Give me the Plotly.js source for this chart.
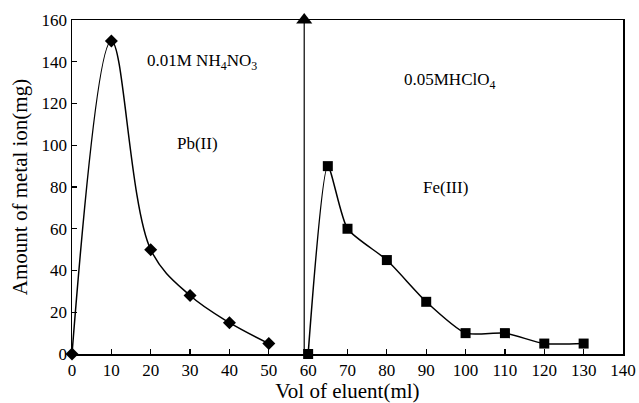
<!DOCTYPE html>
<html><head><meta charset="utf-8">
<script src="https://cdn.plot.ly/plotly-3.0.1.min.js"></script>
<style>
html,body{margin:0;padding:0;background:#fff}
#chart text{font-family:'Liberation Serif', serif !important;}
</style>
</head><body><div id="chart" style="width:639px;height:403px"></div>
<script>
const pbVol = [0, 10, 20, 30, 40, 50];
const pbAmount = [0, 150, 50, 28, 15, 5];
const feVol = [60, 65, 70, 80, 90, 100, 110, 120, 130];
const feAmount = [0, 90, 60, 45, 25, 10, 10, 5, 5];
const markerVol = [59, 59];
const markerAmount = [0, 160];
const xTicks = [0, 10, 20, 30, 40, 50, 60, 70, 80, 90, 100, 110, 120, 130, 140];
const yTicks = [0, 20, 40, 60, 80, 100, 120, 140, 160];

const FAM = 'Liberation Serif';
function f(size) { return {family: FAM, size: size, color: '#000000'}; }
const traces = [
  {x: pbVol, y: pbAmount, mode: 'lines+markers', line: {color: '#000', width: 1.5, shape: 'spline', smoothing: 1},
   marker: {symbol: 'diamond', size: 10, color: '#000'}, cliponaxis: false},
  {x: feVol, y: feAmount, mode: 'lines+markers', line: {color: '#000', width: 1.5, shape: 'spline', smoothing: 0.6},
   marker: {symbol: 'square', size: 10, color: '#000'}, cliponaxis: false},
  {x: markerVol, y: markerAmount, mode: 'lines', line: {color: '#000', width: 1.2}, cliponaxis: false},
  {x: [markerVol[1]], y: [markerAmount[1]], mode: 'markers',
   marker: {symbol: 'triangle-up', size: 14, color: '#000000', line: {width: 0}}, cliponaxis: false}
];
const layout = {
  width: 639, height: 403, showlegend: false,
  margin: {l: 72, r: 16, t: 20, b: 49},
  paper_bgcolor: '#fff', plot_bgcolor: '#fff',
  font: f(17),
  xaxis: {range: [0, 140], tickvals: xTicks, ticks: 'inside', ticklen: 5, tickwidth: 1.2, tickcolor: '#000',
    showline: true, linecolor: '#000', linewidth: 1.5, mirror: true, showgrid: false, zeroline: false,
    tickfont: f(17),
    title: {text: 'Vol of eluent(ml)', font: f(21), standoff: 4}},
  yaxis: {range: [0, 160], tickvals: yTicks, ticks: 'inside', ticklen: 5, tickwidth: 1.2, tickcolor: '#000',
    showline: true, linecolor: '#000', linewidth: 1.5, mirror: true, showgrid: false, zeroline: false,
    tickfont: f(17),
    title: {text: 'Amount of metal ion(mg)', font: f(21), standoff: 8}},
  annotations: [
    {x: 33, y: 140, text: '0.01M NH<sub>4</sub>NO<sub>3</sub>', showarrow: false, font: f(17)},
    {x: 32, y: 101, text: 'Pb(II)', showarrow: false, font: f(17)},
    {x: 96, y: 131, text: '0.05MHClO<sub>4</sub>', showarrow: false, font: f(17)},
    {x: 95, y: 80, text: 'Fe(III)', showarrow: false, font: f(17)}
  ]
};
Plotly.newPlot('chart', traces, layout, {displayModeBar: false, staticPlot: true});
</script></body></html>
